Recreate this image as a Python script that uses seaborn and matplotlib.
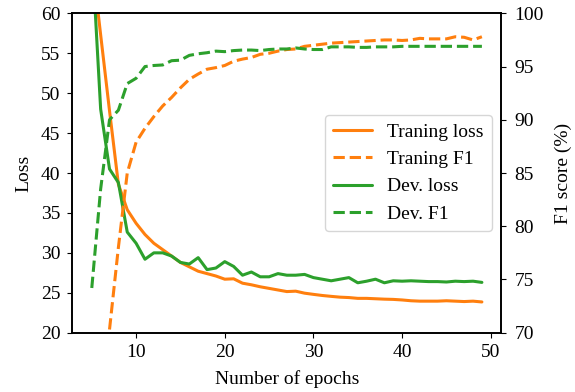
import numpy as np
import pandas as pd
import matplotlib
matplotlib.use("Agg")
import matplotlib.pyplot as plt
import seaborn as sns

epochs = list(range(5, 50))
train_loss = [67.0, 57.3, 47.8, 38.6, 35.4, 33.7, 32.3, 31.2, 30.4, 29.6,
              28.8, 28.25, 27.7, 27.4, 27.1, 26.7, 26.75, 26.2, 26.0, 25.75,
              25.55, 25.35, 25.15, 25.2, 24.95, 24.8, 24.66, 24.55, 24.45, 24.4,
              24.3, 24.3, 24.25, 24.2, 24.17, 24.1, 24.0, 23.95, 23.95, 23.95,
              24.0, 23.95, 23.9, 23.95, 23.85]
dev_loss = [68.0, 48.0, 40.5, 38.8, 32.6, 31.2, 29.2, 30.0, 30.0, 29.6,
            28.8, 28.6, 29.4, 27.9, 28.1, 28.9, 28.3, 27.2, 27.6, 27.0,
            27.0, 27.4, 27.2, 27.2, 27.3, 26.9, 26.7, 26.5, 26.7, 26.9,
            26.25, 26.45, 26.7, 26.25, 26.5, 26.45, 26.5, 26.45, 26.4, 26.4,
            26.35, 26.45, 26.4, 26.45, 26.3]
train_f1_epochs = list(range(7, 50))
train_f1 = [70.3, 78.0, 85.0, 87.9, 89.2, 90.3, 91.3, 92.1, 93.0, 93.8,
            94.3, 94.75, 94.9, 95.1, 95.5, 95.7, 95.85, 96.15, 96.25, 96.45,
            96.6, 96.65, 96.9, 97.0, 97.1, 97.2, 97.25, 97.3, 97.35, 97.4,
            97.45, 97.5, 97.5, 97.45, 97.5, 97.65, 97.6, 97.6, 97.6, 97.8,
            97.75, 97.5, 97.8]
dev_f1 = [74.2, 83.5, 90.0, 90.9, 93.4, 93.9, 95.0, 95.1, 95.15, 95.55,
          95.6, 96.05, 96.2, 96.3, 96.45, 96.4, 96.5, 96.55, 96.55, 96.5,
          96.6, 96.65, 96.65, 96.75, 96.65, 96.6, 96.6, 96.85, 96.85, 96.85,
          96.8, 96.8, 96.85, 96.85, 96.85, 96.9, 96.9, 96.9, 96.9, 96.9,
          96.9, 96.9, 96.9, 96.9, 96.9]

sns.set_style("ticks")
plt.rcParams["font.family"] = ["Liberation Serif", "DejaVu Serif"]
plt.rcParams["font.size"] = 14
plt.rcParams["axes.edgecolor"] = "black"
plt.rcParams["xtick.color"] = "black"
plt.rcParams["ytick.color"] = "black"
plt.rcParams["axes.labelcolor"] = "black"
plt.rcParams["text.color"] = "black"

orange = "#ff7f0e"
green = "#2ca02c"

fig = plt.figure(figsize=(5.75, 3.92), dpi=100)
ax = fig.add_axes([0.1257, 0.1513, 0.7463, 0.8147])
ax2 = ax.twinx()

sns.lineplot(x=epochs, y=train_loss, ax=ax, color=orange, lw=2.2, label="Traning loss", legend=False)
sns.lineplot(x=train_f1_epochs, y=train_f1, ax=ax2, color=orange, lw=2.2, linestyle="--", label="Traning F1", legend=False)
sns.lineplot(x=epochs, y=dev_loss, ax=ax, color=green, lw=2.2, label="Dev. loss", legend=False)
sns.lineplot(x=epochs, y=dev_f1, ax=ax2, color=green, lw=2.2, linestyle="--", label="Dev. F1", legend=False)

ax.set_xlim(2.8, 51.2)
ax.set_ylim(20, 60)
ax2.set_ylim(70, 100)
ax.set_xticks([10, 20, 30, 40, 50])
ax.set_yticks(list(range(20, 61, 5)))
ax2.set_yticks(list(range(70, 101, 5)))
ax.tick_params(labelsize=14, pad=5)
ax2.tick_params(labelsize=14, pad=6)
ax.set_xlabel("Number of epochs", fontsize=14, labelpad=6)
ax.set_ylabel("Loss", fontsize=14, labelpad=6)
ax2.set_ylabel("F1 score (%)", fontsize=14, labelpad=8)
for a in (ax, ax2):
    for s in a.spines.values():
        s.set_visible(True)
        s.set_color("black")
        s.set_linewidth(1.2)

h1, l1 = ax.get_legend_handles_labels()
h2, l2 = ax2.get_legend_handles_labels()
handles = [h1[0], h2[0], h1[1], h2[1]]
labels = [l1[0], l2[0], l1[1], l2[1]]
ax2.legend(handles, labels, loc="center right", frameon=True, fancybox=True,
           framealpha=0.8, edgecolor="#cccccc", fontsize=14)

fig.savefig("out.png", dpi=100)
